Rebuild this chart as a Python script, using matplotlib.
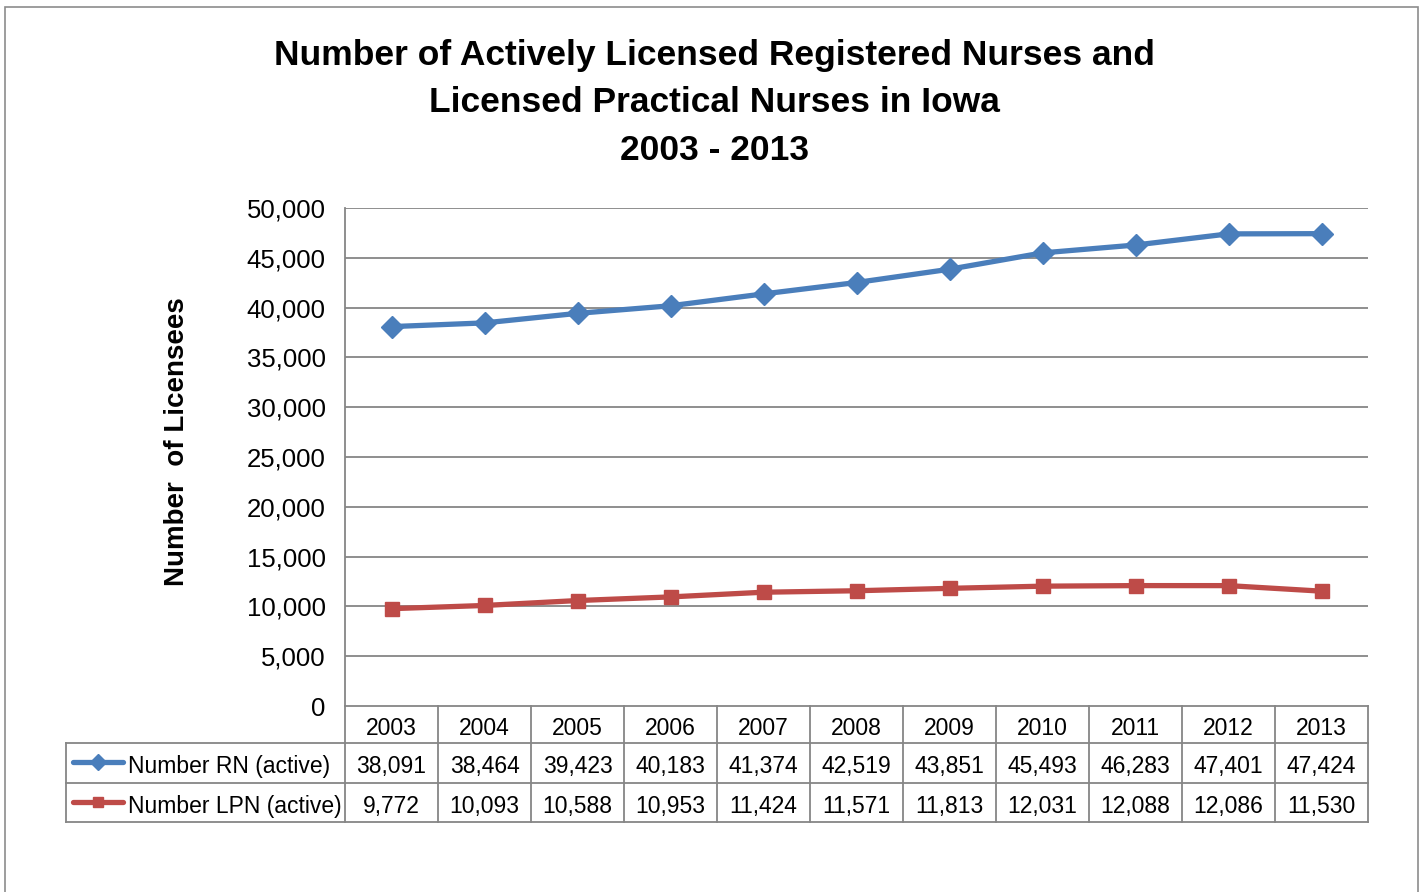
import matplotlib
matplotlib.use("Agg")
from matplotlib import pyplot as plt
from matplotlib.patches import Rectangle
from matplotlib.lines import Line2D

plt.rcParams['font.family'] = ['Liberation Sans', 'DejaVu Sans']

years = ['2003', '2004', '2005', '2006', '2007', '2008', '2009', '2010', '2011', '2012', '2013']
rn = [38091, 38464, 39423, 40183, 41374, 42519, 43851, 45493, 46283, 47401, 47424]
lpn = [9772, 10093, 10588, 10953, 11424, 11571, 11813, 12031, 12088, 12086, 11530]
series_names = ['Number RN (active)', 'Number LPN (active)']
yticks = [0, 5000, 10000, 15000, 20000, 25000, 30000, 35000, 40000, 45000, 50000]

blue = '#4A7EBB'
red = '#BE4B48'
grid_c = '#868686'

W, H = 1426, 892
fig = plt.figure(figsize=(W / 100, H / 100), dpi=100)

def fx(px):
    return px / W

def fy(py):
    return 1 - py / H

# outer chart border
fig.patches.append(Rectangle((fx(5), fy(900)), fx(1418) - fx(5), fy(7) - fy(900),
                             transform=fig.transFigure, fill=False, ec='#8c8c8c', lw=1.2))

left, right, top, bottom = 345, 1368, 208, 706
ax = fig.add_axes([fx(left), fy(bottom), fx(right) - fx(left), fy(top) - fy(bottom)])
x = list(range(len(years)))
ax.plot(x, rn, color=blue, lw=3.8, marker='D', ms=11, zorder=3)
ax.plot(x, lpn, color=red, lw=3.8, marker='s', ms=9.5, zorder=3)
ax.set_xlim(-0.5, len(years) - 0.5)
ax.set_ylim(0, 50000)
ax.set_yticks(yticks)
ax.set_yticklabels(['{:,}'.format(v) for v in yticks], fontsize=18.5)
ax.set_xticks([])
ax.tick_params(axis='y', length=0, pad=14)
for v in yticks[1:]:
    ax.axhline(v, color=grid_c, lw=1.3, zorder=1)
for s in ['top', 'right', 'bottom']:
    ax.spines[s].set_visible(False)
ax.spines['left'].set_color(grid_c)
ax.spines['left'].set_linewidth(1.3)

fig.text(fx(177), fy(442), 'Number  of Licensees', rotation=90, ha='center', va='center',
         fontsize=20, fontweight='bold')

fig.text(fx(714), fy(103), 'Number of Actively Licensed Registered Nurses and\n'
         'Licensed Practical Nurses in Iowa\n2003 - 2013',
         ha='center', va='center', fontsize=25.5, fontweight='bold', linespacing=1.54)

# data table
col_w = (right - left) / len(years)
rows = [706, 743, 783, 822]
tab_left = 66
fs = 16.5

def hline(x0, x1, y):
    fig.add_artist(Line2D([fx(x0), fx(x1)], [fy(y), fy(y)], transform=fig.transFigure,
                          color=grid_c, lw=1.3))

def vline(xp, y0, y1):
    fig.add_artist(Line2D([fx(xp), fx(xp)], [fy(y0), fy(y1)], transform=fig.transFigure,
                          color=grid_c, lw=1.3))

hline(left, right, rows[0])
hline(tab_left, right, rows[1])
hline(tab_left, right, rows[2])
hline(tab_left, right, rows[3])
for i in range(len(years) + 1):
    vline(left + i * col_w, rows[0], rows[3])
vline(tab_left, rows[1], rows[3])

for i, yr in enumerate(years):
    cx = left + (i + 0.5) * col_w
    fig.text(fx(cx), fy((rows[0] + rows[1]) / 2 + 4), yr, ha='center', va='center', fontsize=fs)
    fig.text(fx(cx), fy((rows[1] + rows[2]) / 2 + 4), '{:,}'.format(rn[i]), ha='center', va='center', fontsize=fs)
    fig.text(fx(cx), fy((rows[2] + rows[3]) / 2 + 4), '{:,}'.format(lpn[i]), ha='center', va='center', fontsize=fs)

for (name, col, mk, ms), r in zip([(series_names[0], blue, 'D', 8), (series_names[1], red, 's', 7.5)], [1, 2]):
    yc = (rows[r] + rows[r + 1]) / 2
    fig.add_artist(Line2D([fx(73), fx(123)], [fy(yc - 1), fy(yc - 1)], transform=fig.transFigure,
                          color=col, lw=3.8, solid_capstyle='round'))
    fig.add_artist(Line2D([fx(98)], [fy(yc - 1)], transform=fig.transFigure,
                          color=col, marker=mk, ms=ms, lw=0))
    fig.text(fx(128), fy(yc + 4), name, ha='left', va='center', fontsize=fs)

fig.savefig('out.png', dpi=100)
